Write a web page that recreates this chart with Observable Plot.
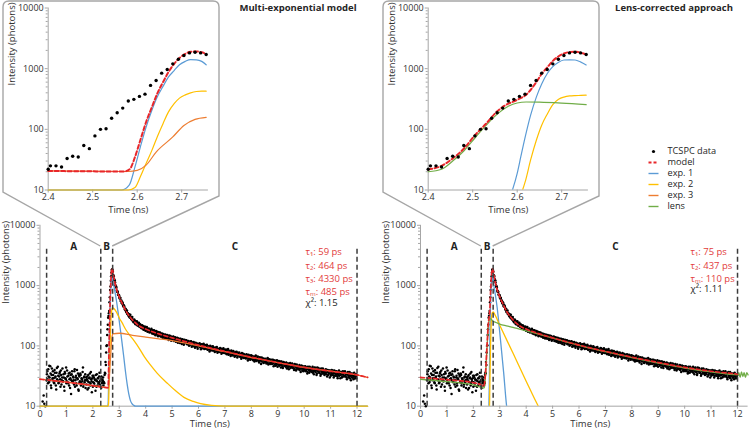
<!DOCTYPE html>
<html><head><meta charset="utf-8">
<script src="https://cdn.jsdelivr.net/npm/d3@7"></script>
<script src="https://cdn.jsdelivr.net/npm/@observablehq/plot@0.6"></script>
<style>
html,body{margin:0;padding:0;background:#fff;}
#root{position:relative;width:750px;height:432px;overflow:hidden;background:#fff;font-family:'Open Sans',sans-serif;}
#root svg{position:absolute;}
.title{position:absolute;width:220px;text-align:center;font-weight:bold;font-size:9.5px;color:#262626;line-height:14px;top:1px;}
</style></head><body><div id="root"></div>
<script>
// ---------------- DATA ----------------
const titles = ["Multi-exponential model", "Lens-corrected approach"];
const zoneNames = ["A", "B", "C"];
const zoneBounds = [0.25, 2.3, 2.75, 12];
const xTicksBottom = [0,1,2,3,4,5,6,7,8,9,10,11,12];
const xTicksInset = [2.4, 2.5, 2.6, 2.7];
const yMajor = [10, 100, 1000, 10000];
const yMinor = [20,30,40,50,60,70,80,90,200,300,400,500,600,700,800,900,2000,3000,4000,5000,6000,7000,8000,9000];
const legendItems = ["TCSPC data", "model", "exp. 1", "exp. 2", "exp. 3", "lens"];
const annotMulti = ["τ₁: 59 ps", "τ₂: 464 ps", "τ₃: 4330 ps", "τₘ: 485 ps"];
const chiMulti = "χ²: 1.15";
const annotLens = ["τ₁: 75 ps", "τ₂: 437 ps", "τₘ: 110 ps"];
const chiLens = "χ²: 1.11";

// TCSPC photon counts (time bins, two interleaved sets)
const preStart = 0.0125, preStep = 0.025;
const preCounts = [5,7,4,8,6,15,11,6,9,7,
 34,28,41,25,30,46,22,33,27,38,
 29,24,36,31,19,43,27,32,25,35,
 28,39,23,30,26,34,21,37,29,44,
 26,31,24,35,28,20,33,27,38,25,
 30,23,41,27,32,22,29,35,18,31,
 26,33,24,28,37,21,30,25,34,27,
 23,31,26,20,29,35,24,28,17,32,
 25,30,22,27,33,21,26,29,24,31,
 23,27,20,28,25,30];
const preStart2 = 0.025;
const preCounts2 = [6,9,5,12,7,8,4,10,6,27,
 38,24,31,47,27,35,20,42,29,33,
 25,40,30,22,36,28,45,24,31,37,
 21,33,27,42,26,30,18,35,28,24,
 39,25,32,22,36,29,16,34,26,31,
 27,38,21,30,24,40,28,19,33,25,
 35,22,29,26,44,23,31,27,20,30,
 28,19,33,25,30,22,37,26,29,21,
 32,24,28,18,27,34,22,29,25,36,
 26,21,31,24,27,22];
const riseStart = 2.405, riseStep = 0.0125;
const riseCounts = [25,25,24,33,36,35,54,48,78,100,102,152,188,224,293,312,349,380,530,640,844,970,1200,1430,1650,1820,1860,1820,1710];
const decayStart = 2.78, decayStep = 0.025;
const decayCounts = [1480,1290,1210,1010,965,830,805,712,695,
 632,628,561,566,507,510,448,461,409,412,371,
 372,338,349,312,327,296,303,279,288,262,
 270,248,259,236,251,228,238,219,230,211,
 222,203,216,198,209,193,206,187,199,184,
 193,181,190,176,186,171,183,169,180,174,
 165,176,160,171,157,168,154,166,151,162,
 149,161,145,156,142,154,140,151,147,138,
 150,137,146,132,143,129,141,134,127,139,
 131,140,126,135,122,133,128,119,131,124,
 118,130,121,113,127,116,124,111,122,115,
 120,109,118,106,115,112,104,117,108,113,
 102,112,105,99,110,101,107,96,104,100,
 108,95,103,98,91,105,94,100,92,99,
 90,101,93,87,97,89,95,85,93,88,
 96,86,92,83,89,94,82,88,85,80,
 87,79,91,81,84,77,86,80,83,76,
 82,75,85,78,73,81,76,79,72,80,
 74,70,78,73,68,76,71,74,67,72,
 75,69,66,73,70,64,71,68,72,65,
 67,63,70,66,61,68,64,59,67,62,
 65,60,63,58,66,61,57,64,59,62,
 56,61,58,63,55,60,57,53,61,56,
 59,54,57,52,60,55,51,58,53,56,
 50,55,52,57,49,54,51,48,55,50,
 53,47,51,55,48,52,46,50,53,47,
 49,45,52,47,44,50,46,49,43,48,
 45,50,44,47,42,48,45,41,47,44,
 43,46,40,45,42,47,39,44,41,45,
 42,38,44,41,37,43,40,45,38,42,
 39,43,36,41,38,44,37,40,35,42,
 38,41,36,39,34,40,37,42,35,38,
 36,39,34,40,37,33,38,35,39,32,
 37,34,39,35,32,38,36,33,37,31,
 35,38,32,36,33,37,30,35,34,31,
 36,32,35,30,34,37,31,33,29,35,
 32,34,30,35,31,33,29,34,32];
const decayStart2 = 2.7925;
const decayCounts2 = [1420,1230,1130,960,925,790,780,700,690,
 610,625,548,512,530,462,470,447,396,408,360,
 385,341,330,336,298,327,288,274,301,266,
 246,273,262,229,244,257,218,236,241,208,
 229,208,197,221,214,185,202,210,178,199,
 205,172,188,194,167,183,176,192,160,181,
 158,181,167,150,176,162,171,145,169,153,
 166,143,152,160,137,158,148,133,155,144,
 131,152,140,125,149,138,146,122,141,134,
 143,121,133,139,117,130,136,113,132,127,
 112,131,125,108,129,119,104,126,117,123,
 124,106,115,121,101,117,110,119,97,114,
 99,116,107,93,113,103,110,90,108,102,
 111,97,88,106,100,93,109,89,103,96,
 92,104,86,99,95,81,101,90,97,84,
 99,84,93,79,91,87,96,77,90,85,
 80,92,85,74,89,82,91,76,86,79,
 87,73,81,89,71,83,77,68,84,75,
 70,82,75,66,79,72,80,64,77,71,
 78,67,73,61,76,69,74,63,71,66,
 62,73,66,57,71,64,69,60,70,63,
 68,58,66,55,63,69,56,62,67,57,
 53,65,59,50,64,58,62,52,60,55,
 61,51,58,63,49,57,60,50,55,59,
 51,59,46,55,57,47,53,58,45,52,
 56,48,52,44,55,50,43,54,49,51,
 46,53,42,49,51,41,48,52,44,47,
 51,43,47,40,50,46,39,49,44,42,
 41,48,43,37,47,42,46,38,45,40,
 46,39,43,35,45,41,36,44,40,38,
 37,45,40,34,43,39,41,33,44,38,
 43,36,40,32,42,38,35,41,37,33,
 35,41,37,31,40,36,39,30,38,34,
 40,33,36,30,39,35,32,38,34,29,
 33,39,35,29,37,34,31,38,32,36,
 38,31,34,28,36,33,30,37,32,27,
 35,30,33,28,36,31,34,29,33];

// Multi-exponential fit curves
const mxModelT = [0,1,2,2.4,2.57,2.583,2.595,2.607,2.62,2.633,2.645,2.658,2.67,2.683,2.695,2.708,2.72,2.733,2.745,2.755,2.78,2.8,2.85,2.9,2.95,3.0,3.1,3.2,3.3,3.4,3.5,3.75,4,4.5,5,5.5,6,7,8,9,10,11,12,12.4];
const mxModelV = [28,25,22,20.6,20.2,22,35,66,132,233,387,600,870,1200,1500,1750,1900,1920,1860,1750,1480,1330,1050,860,740,650,520,420,350,305,270,215,190,158,136,118,103,81,65,53,44,38,33,30];
const mxExp1T = [0,2.4,2.565,2.582,2.595,2.607,2.62,2.633,2.645,2.658,2.67,2.683,2.695,2.708,2.72,2.733,2.745,2.755,2.8,2.85,2.9,2.98,3.05,3.11,3.17,3.23,3.3,3.36,3.42,3.48,3.55,3.62,12.4];
const mxExp1V = [10,10,10,12,24,51,109,206,340,510,725,930,1160,1320,1410,1400,1320,1160,960,731,540,299,175,108,66,39,23,16,12.5,11,10.3,10,10];
const mxExp2T = [0,2.4,2.58,2.595,2.607,2.62,2.633,2.645,2.658,2.67,2.683,2.695,2.708,2.72,2.733,2.745,2.755,2.8,2.9,3.0,3.1,3.25,3.4,3.55,3.75,3.96,4.2,4.44,4.82,5.1,5.45,5.8,6.08,6.5,7,12.4];
const mxExp2V = [10,10,10,11,16.5,27.4,45,75,124,192,265,327,370,400,420,425,425,415,360,290,245,185,150,123,92,65,47,35,24,18.5,14,12,11,10.3,10,10];
const mxExp3T = [0,1,2,2.4,2.58,2.6,2.62,2.643,2.68,2.705,2.73,2.755,3.0,3.5,4,4.5,5,6,7,8,9,10,11,12,12.4];
const mxExp3V = [28,25,22,20.6,20.2,21,25.7,42.6,75,116,146,158,162,150,140,131,122,100,80,64,53,44,38,33,30];

// Lens-corrected fit curves
const lcModelT = [0,1,2,2.3,2.35,2.4,2.43,2.455,2.48,2.505,2.53,2.555,2.58,2.593,2.605,2.618,2.63,2.643,2.655,2.668,2.68,2.693,2.705,2.718,2.73,2.743,2.755,2.78,2.8,2.85,2.9,2.95,3.0,3.1,3.2,3.3,3.4,3.5,3.75,4,4.5,5,5.5,6,7,8,9,10,11,12];
const lcModelV = [30,27.5,24.5,22.5,21.5,21.8,25,33,48,80,124,198,265,290,320,360,445,600,820,1060,1340,1600,1780,1880,1900,1830,1720,1480,1330,1050,860,740,650,520,420,350,305,270,215,190,158,136,118,103,81,65,53,44,38,34];
const lcLensT = [0,1,2,2.3,2.4,2.43,2.455,2.48,2.505,2.53,2.555,2.58,2.6,2.62,2.65,2.7,2.755,2.8,2.9,3.0,3.25,3.5,3.75,4,4.5,5,5.5,6,7,8,9,10,11,12,12.05,12.1,12.15,12.2,12.25,12.3,12.35,12.4];
const lcLensV = [28,25.5,22.5,20.5,20,22,30,44,72,116,178,240,272,282,280,270,255,250,240,230,215,203,190,178,155,134,117,102,80,64,52,43,37,33,36,30,37,31,36,30,36,33];
const lcExp1T = [2.585,2.6,2.608,2.618,2.63,2.643,2.655,2.668,2.68,2.693,2.705,2.718,2.73,2.743,2.755,2.8,2.9,3.03,3.15,3.26,3.3];
const lcExp1V = [8,18.8,35,75,170,340,560,840,1080,1280,1390,1400,1390,1280,1150,870,437,123,35,10,7.5];
const lcExp2T = [2.605,2.612,2.618,2.63,2.643,2.655,2.668,2.68,2.693,2.705,2.718,2.73,2.743,2.755,2.8,3.0,3.5,4.0,4.46,4.55];
const lcExp2V = [8,10,13.7,31,66,117,181,255,312,340,355,360,362,365,340,220,76,26,10,8.5];

// ---------------- STYLE ----------------
const COL = {data: "#000", model: "#e8262a", exp1: "#5b9bd5", exp2: "#ffc000", exp3: "#ed7d31", lens: "#70ad47"};
const legendColors = [COL.data, COL.model, COL.exp1, COL.exp2, COL.exp3, COL.lens];
const RED_TXT = "#e23b3b", TXT = "#333", AXIS = "#a6a6a6";
const FONT = "'Open Sans', 'DejaVu Sans', sans-serif";
const ruleTop = 4450;

// ---------------- BUILD ----------------
const bins = (counts, start, step) => counts.map((v, i) => ({t: start + i * step, v}));
const tcspc = [
  ...bins(preCounts, preStart, preStep),
  ...bins(preCounts2, preStart2, preStep),
  ...bins(riseCounts, riseStart, riseStep),
  ...bins(decayCounts, decayStart, decayStep),
  ...bins(decayCounts2, decayStart2, decayStep)
].filter(d => d.v >= 10);
const series = (T, V) => T.map((t, i) => ({t, v: V[i]}));
const zoneCenters = zoneNames.map((_, i) => (zoneBounds[i] + zoneBounds[i + 1]) / 2);

const multiCurves = [
  {data: series(mxExp1T, mxExp1V), color: COL.exp1},
  {data: series(mxExp2T, mxExp2V), color: COL.exp2},
  {data: series(mxExp3T, mxExp3V), color: COL.exp3},
  {data: series(mxModelT, mxModelV), color: COL.model, dash: "4,2.5"}
];
const lensCurves = [
  {data: series(lcExp1T, lcExp1V), color: COL.exp1, clip: true},
  {data: series(lcExp2T, lcExp2V), color: COL.exp2, clip: true},
  {data: series(lcLensT, lcLensV), color: COL.lens},
  {data: series(lcModelT, lcModelV), color: COL.model, dash: "4,2.5"}
];

const root = document.getElementById("root");
const style = {background: "transparent", overflow: "visible", fontFamily: FONT, fontSize: "9px"};

function lineMark(c, inset) {
  const data = inset ? c.data.filter(d => d.t >= 2.4 && d.t <= 2.76) : c.data;
  const o = {x: "t", y: "v", stroke: c.color, strokeWidth: c.dash ? (inset ? 2 : 1.7) : (inset ? 1.2 : 1.3), curve: "monotone-x", clip: !!c.clip};
  if (c.dash) o.strokeDasharray = c.dash;
  return Plot.line(data, o);
}
function yAxes() {
  return [
    Plot.axisY(yMajor, {tickSize: 3, tickPadding: 1.5, stroke: AXIS, fill: TXT, fontSize: 9, tickFormat: d => String(d), label: null}),
    Plot.axisY(yMinor, {tickSize: 2, stroke: AXIS, tickFormat: () => "", label: null})
  ];
}

function bottomPanel({curves, annot, chi, ml, mr, annotDx, ylabDx}) {
  const w = ml + mr + 12.4 * 26.42;
  return Plot.plot({
    width: w, height: 222, marginTop: 14.8, marginBottom: 26.3, marginLeft: ml, marginRight: mr,
    style,
    x: {domain: [0, 12.4], label: null},
    y: {type: "log", domain: [10, 10000], label: null},
    marks: [
      Plot.ruleX([0], {stroke: AXIS}),
      Plot.ruleY([10], {stroke: AXIS}),
      ...yAxes(),
      Plot.axisX(xTicksBottom, {tickSize: 3, tickPadding: 1, stroke: AXIS, fill: TXT, fontSize: 9, tickFormat: d => String(d), label: null}),
      Plot.dot(tcspc, {x: "t", y: "v", r: 1.25, fill: COL.data}),
      ...curves.map(c => lineMark(c, false)),
      Plot.ruleX(zoneBounds, {y1: 10, y2: ruleTop, stroke: "#3c3c3c", strokeWidth: 1.5, strokeDasharray: "5,3"}),
      Plot.text(zoneNames, {x: (d, i) => zoneCenters[i], y: ruleTop, text: d => d, fontWeight: "bold", fontSize: 10, fill: "#222"}),
      Plot.text([annot.join("\n")], {text: d => d, frameAnchor: "top-left", dx: annotDx, dy: 20.5, textAnchor: "start", lineAnchor: "top", lineHeight: 1.4, fontSize: 9.5, fill: RED_TXT}),
      Plot.text([chi], {text: d => d, frameAnchor: "top-left", dx: annotDx, dy: 20.5 + annot.length * 13.3, textAnchor: "start", lineAnchor: "top", fontSize: 9.5, fill: "#222"}),
      Plot.text(["Time (ns)"], {text: d => d, frameAnchor: "bottom", dx: 6, dy: 21.2, fontSize: 9.5, fill: TXT}),
      Plot.text(["Intensity (photons)"], {text: d => d, frameAnchor: "left", rotate: -90, dx: ylabDx, dy: -12, fontSize: 9.5, fill: TXT})
    ]
  });
}

function insetPanel(curves) {
  return Plot.plot({
    width: 220, height: 220, marginTop: 7.5, marginBottom: 30.5, marginLeft: 47.7, marginRight: 12.1,
    style,
    x: {domain: [2.4, 2.76], label: null},
    y: {type: "log", domain: [10, 10000], label: null},
    marks: [
      Plot.ruleX([2.4], {stroke: AXIS}),
      Plot.ruleY([10], {stroke: AXIS}),
      ...yAxes(),
      Plot.axisX(xTicksInset, {tickSize: 3, tickPadding: 1, stroke: AXIS, fill: TXT, fontSize: 9, tickFormat: d => d.toFixed(1), label: null}),
      ...curves.map(c => lineMark(c, true)),
      Plot.dot(tcspc.filter(d => d.t >= 2.4 && d.t <= 2.76), {x: "t", y: "v", r: 1.7, fill: COL.data}),
      Plot.text(["Time (ns)"], {text: d => d, frameAnchor: "bottom", dy: 22.5, fontSize: 9.5, fill: TXT}),
      Plot.text(["Intensity (photons)"], {text: d => d, frameAnchor: "left", rotate: -90, dx: -36, dy: -13.5, fontSize: 9.5, fill: TXT})
    ]
  });
}

function place(el, left, top) {
  el.style.position = "absolute";
  el.style.left = left + "px";
  el.style.top = top + "px";
  root.appendChild(el);
  return el;
}

// overlay for callout frames (behind plots)
const overlay = d3.create("svg").attr("width", 750).attr("height", 432).style("left", "0px").style("top", "0px");
root.appendChild(overlay.node());

const panels = [
  {left: 0, curves: multiCurves, annot: annotMulti, chi: chiMulti, ml: 39.5, mr: 7.8, annotDx: 265.5, ylabDx: -34.5, title: titles[0], titleX: 298},
  {left: 380, curves: lensCurves, annot: annotLens, chi: chiLens, ml: 40, mr: 2.7, annotDx: 270, ylabDx: -35, title: titles[1], titleX: 674}
];

panels.forEach(p => {
  const bottom = place(bottomPanel(p), p.left, 210);
  place(insetPanel(p.curves), p.left, 0);
  const sx = bottom.scale("x"), sy = bottom.scale("y");
  const yTop = 210 + sy.apply(ruleTop);
  const bl = [p.left + sx.apply(zoneBounds[1]), yTop];
  const br = [p.left + sx.apply(zoneBounds[2]), yTop];
  const L = p.left + 3, R = p.left + 219, T = 1, r = 6;
  const path = d3.path();
  path.moveTo(bl[0], bl[1]);
  path.lineTo(L, 192);
  path.lineTo(L, T + r);
  path.quadraticCurveTo(L, T, L + r, T);
  path.lineTo(R - r, T);
  path.quadraticCurveTo(R, T, R, T + r);
  path.lineTo(R, 196);
  path.lineTo(br[0], br[1]);
  overlay.append("path").attr("d", path.toString()).attr("fill", "none").attr("stroke", AXIS).attr("stroke-width", 1.4);
  const t = document.createElement("div");
  t.className = "title";
  t.textContent = p.title;
  t.style.left = (p.titleX - 110) + "px";
  root.appendChild(t);
});

// legend
const legend = Plot.plot({
  width: 110, height: 88, margin: 0, style: {background: "transparent", overflow: "visible", fontFamily: FONT},
  x: {domain: [0, 1], range: [8, 18], axis: null},
  y: {type: "point", domain: legendItems, range: [7, 73], axis: null},
  marks: [
    Plot.dot(legendItems.slice(0, 1), {x: 0.5, y: d => d, r: 1.6, fill: legendColors[0]}),
    ...legendItems.slice(1).map((name, i) => Plot.link([name], {
      x1: 0, x2: 1, y1: d => d, y2: d => d, stroke: legendColors[i + 1],
      strokeWidth: name === "model" ? 1.8 : 1.4,
      ...(name === "model" ? {strokeDasharray: "3,2"} : {})
    })),
    Plot.text(legendItems, {text: d => d, x: 1, y: d => d, dx: 9, textAnchor: "start", fontSize: 9.2, fill: "#262626"})
  ]
});
place(legend, 640, 138);
</script></body></html>
